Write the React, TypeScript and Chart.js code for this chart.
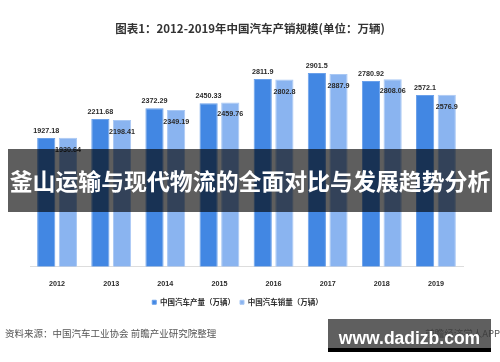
import React, { useEffect, useRef } from "react";
import { Chart, registerables } from "chart.js";

Chart.register(...registerables);

const years = ["2012", "2013", "2014", "2015", "2016", "2017", "2018", "2019"];
const production = [1927.18, 2211.68, 2372.29, 2450.33, 2811.9, 2901.5, 2780.92, 2572.1];
const sales = [1930.64, 2198.41, 2349.19, 2459.76, 2802.8, 2887.9, 2808.06, 2576.9];
const productionLabel = "中国汽车产量（万辆）";
const salesLabel = "中国汽车销量（万辆）";
const titleText = "图表1：2012-2019年中国汽车产销规模(单位：万辆)";
const bannerText = "釜山运输与现代物流的全面对比与发展趋势分析";
const sourceText = "资料来源：中国汽车工业协会 前瞻产业研究院整理";
const appText = "前瞻经济学人APP";
const siteText = "www.dadizb.com";

const FONT = "'Noto Sans CJK SC', 'Liberation Sans', sans-serif";

const valueLabels = {
  id: "valueLabels",
  afterDatasetsDraw(chart: any) {
    const ctx = chart.ctx;
    ctx.save();
    ctx.font = `bold 7.2px 'Liberation Sans', Arial, sans-serif`;
    ctx.fillStyle = "#2a2a2a";
    ctx.textAlign = "center";
    ctx.textBaseline = "middle";
    chart.data.datasets.forEach((ds: any, di: number) => {
      const meta = chart.getDatasetMeta(di);
      meta.data.forEach((bar: any, i: number) => {
        const v = ds.data[i];
        const y = di === 0 ? bar.y - 7 : bar.y + 12;
        ctx.fillText(String(v), bar.x, y);
      });
    });
    ctx.restore();
  },
};

export default function App() {
  const ref = useRef<HTMLCanvasElement | null>(null);
  useEffect(() => {
    if (!ref.current) return;
    const chart = new Chart(ref.current, {
      type: "bar",
      data: {
        labels: years,
        datasets: [
          {
            label: productionLabel,
            data: production,
            backgroundColor: "#4287e3",
            borderColor: "#6aa0ea",
            borderWidth: 1,
            categoryPercentage: 0.8,
            barPercentage: 0.84,
          },
          {
            label: salesLabel,
            data: sales,
            backgroundColor: "#8ab4f0",
            borderColor: "#a9c8f4",
            borderWidth: 1,
            categoryPercentage: 0.8,
            barPercentage: 0.84,
          },
        ],
      },
      options: {
        animation: false,
        responsive: false,
        maintainAspectRatio: false,
        layout: { padding: { left: 12, right: 37, top: 37.7, bottom: 46 } },
        plugins: {
          title: { display: false },
          legend: {
            position: "bottom",
            labels: {
              boxWidth: 4,
              boxHeight: 4,
              padding: 5,
              color: "#2a2a2a",
              font: { family: FONT, size: 7.5, weight: "bold" },
            },
          },
          tooltip: { enabled: false },
        },
        scales: {
          x: {
            grid: { display: false },
            border: { display: true, color: "#dddddd" },
            ticks: {
              padding: 5,
              color: "#2a2a2a",
              font: { family: "'Liberation Sans', Arial, sans-serif", size: 7.2, weight: "bold" },
            },
          },
          y: {
            min: 0,
            max: 3430,
            grid: { display: false },
            border: { display: false },
            ticks: { display: false },
            afterFit: (axis: any) => {
              axis.width = 18;
            },
          },
        },
      },
      plugins: [valueLabels],
    });
    return () => chart.destroy();
  }, []);

  return (
    <div style={{ position: "absolute", left: 0, top: 0, width: 500, height: 362, background: "#fff", overflow: "hidden" }}>
      <canvas ref={ref} width={500} height={362} style={{ position: "absolute", left: 0, top: 0 }} />
      <div
        style={{
          position: "absolute",
          left: 0,
          top: 21,
          width: 500,
          textAlign: "center",
          fontFamily: FONT,
          fontWeight: "bold",
          fontSize: 11.5,
          lineHeight: "14px",
          color: "#333",
          whiteSpace: "nowrap",
        }}
      >
        {titleText}
      </div>
      <div
        style={{
          position: "absolute",
          left: 8,
          top: 149,
          width: 484,
          height: 63,
          background: "rgba(0,0,0,0.63)",
          color: "#fff",
          fontFamily: FONT,
          fontWeight: "bold",
          fontSize: 22.9,
          lineHeight: "63px",
          textAlign: "center",
          whiteSpace: "nowrap",
        }}
      >
        {bannerText}
      </div>
      <div
        style={{
          position: "absolute",
          left: 5,
          top: 326,
          fontFamily: FONT,
          fontSize: 9.5,
          color: "#555",
          whiteSpace: "nowrap",
          lineHeight: "14px",
        }}
      >
        {sourceText}
      </div>
      <div
        style={{
          position: "absolute",
          right: 0,
          top: 326,
          fontFamily: FONT,
          fontSize: 9.5,
          color: "#555",
          whiteSpace: "nowrap",
          lineHeight: "14px",
        }}
      >
        {appText}
      </div>
      <div
        style={{
          position: "absolute",
          left: 328,
          top: 319,
          width: 163,
          height: 29,
          background: "rgba(60,60,60,0.82)",
        }}
      />
      <div style={{ position: "absolute", left: 328, top: 348, width: 163, height: 4, background: "#000" }} />
      <div
        style={{
          position: "absolute",
          left: 328,
          top: 319,
          width: 163,
          height: 33,
          color: "#fff",
          fontFamily: "'Liberation Sans', Arial, sans-serif",
          fontWeight: "bold",
          fontSize: 17.5,
          lineHeight: "38px",
          textAlign: "center",
          whiteSpace: "nowrap",
        }}
      >
        {siteText}
      </div>
    </div>
  );
}
